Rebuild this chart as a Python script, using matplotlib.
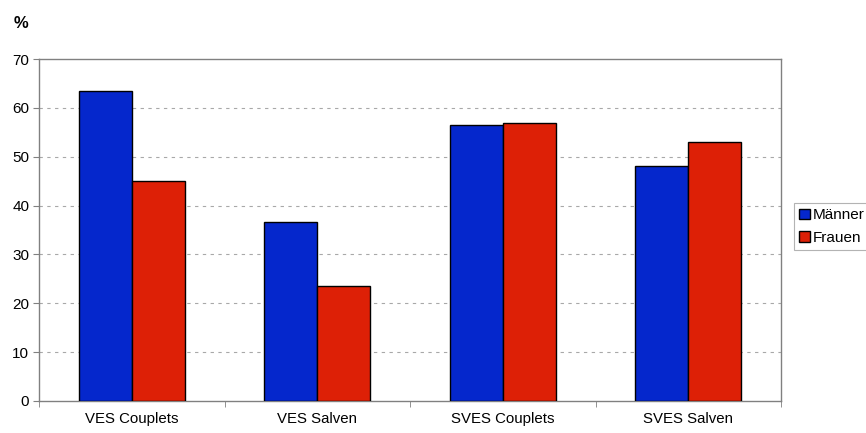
import matplotlib
matplotlib.use("Agg")
import matplotlib.pyplot as plt
import numpy as np

categories = ["VES Couplets", "VES Salven", "SVES Couplets", "SVES Salven"]
maenner = [63.4, 36.6, 56.5, 48.1]
frauen = [45.0, 23.5, 56.9, 53.0]
series_labels = ["Männer", "Frauen"]
y_ticks = [0, 10, 20, 30, 40, 50, 60, 70]

plt.rcParams['font.family'] = ['Liberation Sans', 'DejaVu Sans']

fig = plt.figure(figsize=(8.66, 4.33), dpi=100)
ax = fig.add_axes([39/866, 32/433, 742/866, 342/433])

x = np.arange(len(categories))
w = 0.286
ax.bar(x - w/2, maenner, w, color="#0527CC", edgecolor="black", linewidth=1.0,
       label=series_labels[0], zorder=3)
ax.bar(x + w/2, frauen, w, color="#DD2006", edgecolor="black", linewidth=1.0,
       label=series_labels[1], zorder=3)

ax.set_xlim(-0.5, len(categories) - 0.5)
ax.set_ylim(0, 70)
ax.set_yticks(y_ticks)
ax.tick_params(axis='y', labelsize=11, length=4, color="#808080", pad=3)
ax.set_xticks(x)
ax.set_xticklabels(categories, fontsize=10.8)
ax.tick_params(axis='x', length=0, pad=8)
# category boundary ticks below the axis
ax.set_xticks(np.arange(-0.5, len(categories) + 0.5, 1), minor=True)
ax.tick_params(axis='x', which='minor', length=4, color="#808080")

for v in y_ticks[1:-1]:
    ax.axhline(v, color="#A8A8A8", linestyle=(0, (3, 4)), linewidth=0.8, zorder=1)

for s in ax.spines.values():
    s.set_color("#808080")
    s.set_linewidth(1.0)

fig.text(14/866, 1 - 24/433, "%", fontsize=12, fontweight="bold", va="center")

leg = fig.legend(loc="upper left", bbox_to_anchor=(794/866, 1 - 203/433),
                 fontsize=11, frameon=True, fancybox=False, edgecolor="#A0A0A0",
                 handlelength=0.7, handleheight=0.7, handletextpad=0.2,
                 borderpad=0.35, labelspacing=0.55, borderaxespad=0)
leg.get_frame().set_linewidth(0.8)

fig.savefig("out.png", dpi=100)
